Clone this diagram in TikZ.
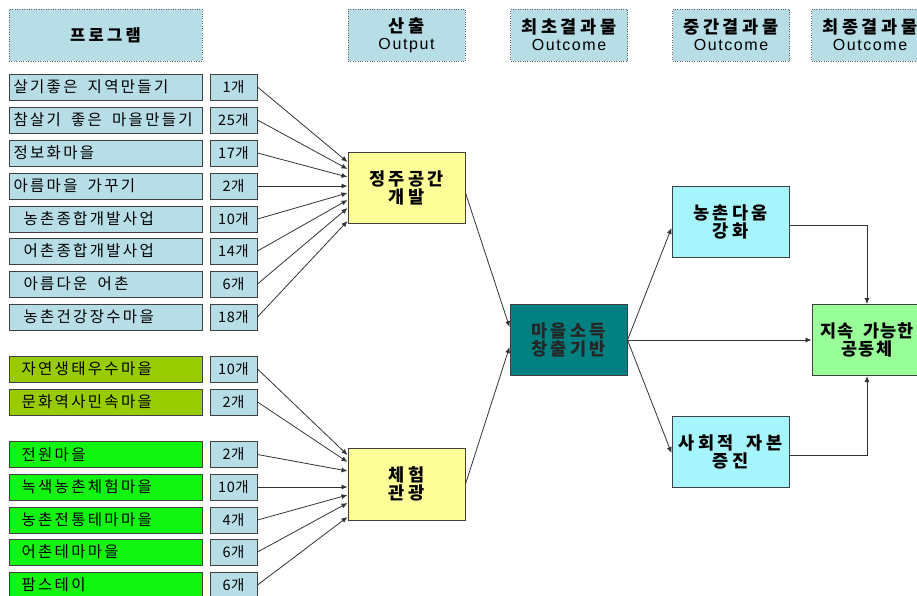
\documentclass[tikz,border=0pt]{standalone}
\usepackage{fontspec}
\setmainfont{Noto Sans CJK KR}
\newfontfamily\rowfont[LetterSpace=15]{Noto Sans CJK KR}
\newfontfamily\cntfont[LetterSpace=4]{Noto Sans CJK KR}
\newfontfamily\boxfont[LetterSpace=20]{Noto Sans CJK KR}
\newfontfamily\endfont[LetterSpace=6]{Noto Sans CJK KR}
\newfontfamily\latinfont[LetterSpace=10]{Liberation Sans}
\newcommand\gap{\hspace{5pt}}
\usepackage{tikz}
\usetikzlibrary{positioning}
\usetikzlibrary{arrows.meta}
\definecolor{hdrblue}{HTML}{B7DDE6}
\definecolor{olivegreen}{HTML}{99CC00}
\definecolor{brightgreen}{HTML}{11F511}
\definecolor{paleyellow}{HTML}{FFFF99}
\definecolor{tealbox}{HTML}{008080}
\definecolor{palecyan}{HTML}{A6F4FC}
\definecolor{palegreen}{HTML}{99FF99}
\definecolor{edgegray}{HTML}{404040}
\tikzset{
  header/.style={draw=black!60, dotted, fill=hdrblue, minimum width=117pt, minimum height=52pt, align=center, inner sep=0pt},
  prog/.style={draw=edgegray, line width=1pt, fill=hdrblue, anchor=west, text width=185pt, align=left, inner xsep=4pt, inner ysep=0pt, minimum height=26pt, font=\rowfont\fontsize{15.5}{16}\selectfont},
  cnt/.style={draw=edgegray, line width=1pt, fill=hdrblue, minimum width=47pt, minimum height=26pt, inner sep=0pt, font=\cntfont\fontsize{14.5}{16}\selectfont},
  stage/.style={draw=edgegray, line width=1pt, minimum width=117pt, minimum height=71pt, align=center, inner sep=0pt, font=\boxfont\fontsize{17.5}{18}\selectfont\bfseries},
  conn/.style={draw=black!80, line width=0.8pt, -{Latex[length=6pt,width=5pt]}}
}
\newcommand\hdrtext[2]{\boxfont\fontsize{17.5}{18}\selectfont\bfseries #1\\[3pt]{\latinfont\fontsize{16}{18}\selectfont\mdseries #2}}
\begin{document}
\begin{tikzpicture}[x=1pt,y=-1pt]
\useasboundingbox (0,0) rectangle (917,595);
\node[header, minimum width=193pt] (hprog) at (105.5,35) {\boxfont\fontsize{16.5}{18}\selectfont\bfseries 프로그램};
\node[header] (hout) at (406.5,35) {\hdrtext{산출}{Output}};
\node[header] (hfirst) at (569,35) {\hdrtext{최초결과물}{Outcome}};
\node[header] (hmid) at (731,35) {\hdrtext{중간결과물}{Outcome}};
\node[header] (hfinal) at (870,35) {\hdrtext{최종결과물}{Outcome}};
\node[stage, fill=paleyellow] (jeongju) at (406.5,188) {정주공간\\개발};
\node[stage, fill=paleyellow, minimum height=72pt] (cheheom) at (406.5,484) {체험\\관광};
\node[stage, fill=tealbox, text=black!85] (maeul) at (568.5,340) {마을소득\\창출기반};
\node[stage, fill=palecyan] (nongchon) at (730.5,222) {농촌다움\\강화};
\node[stage, fill=palecyan] (sahoe) at (730.5,451.5) {사회적 \gap 자본\\증진};
\node[stage, fill=palegreen, minimum width=110pt, font=\endfont\fontsize{17.5}{18}\selectfont\bfseries] (jisok) at (867,340) {지속 \gap 가능한\\공동체};
\foreach \txt/\num/\off/\y/\ty [count=\i] in {
  살기좋은 \gap 지역만들기/1개/0/87/162,
  참살기 \gap 좋은 \gap 마을만들기/25개/0/120/169,
  정보화마을/17개/0/153/177,
  아름마을 \gap 가꾸기/2개/0/186/186,
  농촌종합개발사업/10개/10/219/193,
  어촌종합개발사업/14개/10/251/200,
  아름다운 \gap 어촌/6개/10/284/208,
  농촌건강장수마을/18개/10/317/221} {
\node[prog] (p\i) at (9,\y) {\hspace*{\off pt}\txt};
\node[cnt] (c\i) at (233.5,\y) {\num};
\draw[conn] (c\i.east) -- (jeongju.west |- 0,\ty);
}
\foreach \txt/\num/\col/\y/\ty [count=\i] in {
  자연생태우수마을/10개/olivegreen/369/455,
  문화역사민속마을/2개/olivegreen/402/462,
  전원마을/2개/brightgreen/454.5/471,
  녹색농촌체험마을/10개/brightgreen/487/487,
  농촌전통테마마을/4개/brightgreen/520/495,
  어촌테마마을/6개/brightgreen/552/503,
  팜스테이/6개/brightgreen/585/517} {
\node[prog, fill=\col] (g\i) at (9,\y) {\hspace*{8pt}\txt};
\node[cnt] (d\i) at (233.5,\y) {\num};
\draw[conn] (d\i.east) -- (cheheom.west |- 0,\ty);
}
\draw[conn] (jeongju.east |- 0,193) -- (maeul.west |- 0,327);
\draw[conn] (cheheom.east) -- (maeul.west |- 0,347);
\draw[conn] (maeul.east) -- (nongchon.west |- 0,228);
\draw[conn] (maeul.east) -- (sahoe.west |- 0,453);
\draw[conn] (maeul.east) -- (jisok.west);
\draw[conn] (nongchon.east |- 0,225) -| (jisok.north);
\draw[conn] (sahoe.east |- 0,455) -| (jisok.south);
\end{tikzpicture}
\end{document}
